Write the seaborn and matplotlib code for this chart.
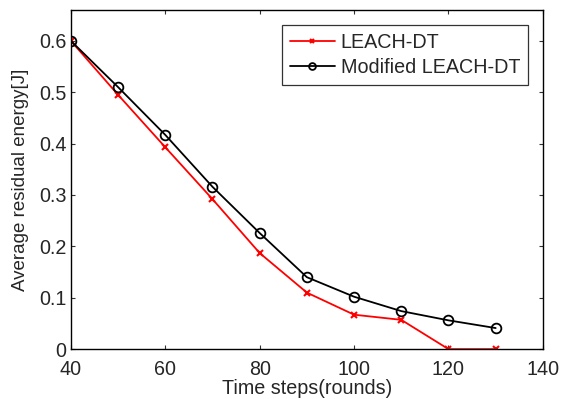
import matplotlib
matplotlib.use("Agg")
import matplotlib.pyplot as plt
import seaborn as sns
import pandas as pd

rounds = [40, 50, 60, 70, 80, 90, 100, 110, 120, 130]
leach_dt = [0.600, 0.495, 0.393, 0.292, 0.187, 0.110, 0.067, 0.057, 0.0, 0.0]
modified_leach_dt = [0.600, 0.510, 0.417, 0.316, 0.226, 0.140, 0.102, 0.074, 0.056, 0.041]
xticks = [40, 60, 80, 100, 120, 140]
yticks = [0, 0.1, 0.2, 0.3, 0.4, 0.5, 0.6]
ytick_labels = ["0", "0.1", "0.2", "0.3", "0.4", "0.5", "0.6"]

sns.set_style("ticks")
plt.rcParams['font.family'] = ['Liberation Sans', 'DejaVu Sans']

df = pd.concat([
    pd.DataFrame({"x": rounds, "y": leach_dt, "s": "LEACH-DT"}),
    pd.DataFrame({"x": rounds, "y": modified_leach_dt, "s": "Modified LEACH-DT"}),
])

FS = 14.2
fig = plt.figure(figsize=(5.62, 3.99), dpi=100)
ax = fig.add_axes([0.126, 0.125, 0.840, 0.850])

sub = df[df.s == "LEACH-DT"]
sns.lineplot(data=sub, x="x", y="y", ax=ax, color="red", marker="x", markersize=4,
             markeredgewidth=1.5, markeredgecolor="red", linewidth=1.3, label="LEACH-DT")
sub = df[df.s == "Modified LEACH-DT"]
sns.lineplot(data=sub, x="x", y="y", ax=ax, color="black", marker="o", markersize=7,
             markerfacecolor="none", markeredgecolor="black", markeredgewidth=1.3,
             linewidth=1.3, label="Modified LEACH-DT")

ax.set_xlim(40, 140)
ax.set_ylim(0, 0.66)
ax.set_xticks(xticks)
ax.set_yticks(yticks)
ax.set_yticklabels(ytick_labels)
ax.tick_params(direction="in", top=True, right=True, labelsize=FS, length=3,
               color="#333333")
ax.tick_params(axis="x", pad=7.5)
ax.tick_params(axis="y", pad=3)
for sp in ax.spines.values():
    sp.set_visible(True)
    sp.set_color("black")
    sp.set_linewidth(1.0)
ax.set_xlabel("Time steps(rounds)", fontsize=FS, labelpad=0.5)
ax.set_ylabel("Average residual energy[J]", fontsize=13.5, labelpad=7)

leg = ax.legend(loc="upper right", bbox_to_anchor=(0.969, 0.955), fontsize=FS, frameon=True,
                fancybox=False, edgecolor="black", handlelength=2.3, handletextpad=0.3,
                borderpad=0.4, labelspacing=0.3, borderaxespad=0, markerscale=0.7)
leg.get_frame().set_linewidth(0.9)

fig.savefig("out.png", dpi=100)
